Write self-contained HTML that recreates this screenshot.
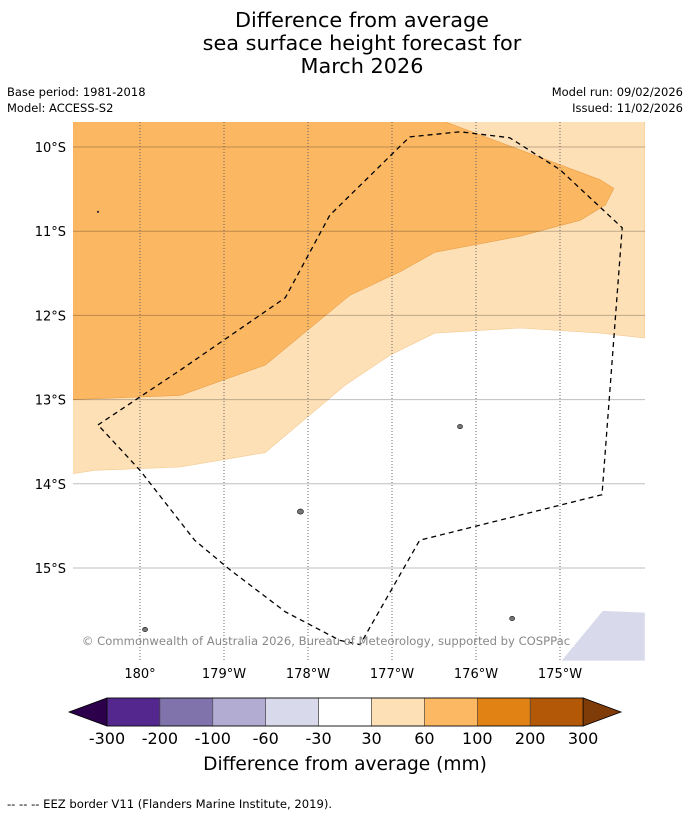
<!DOCTYPE html>
<html><head><meta charset="utf-8">
<style>
body{margin:0;background:#fff;font-family:"Liberation Sans","DejaVu Sans",sans-serif;}
svg text{font-family:"DejaVu Sans","Liberation Sans",sans-serif;}
</style></head>
<body>
<svg id="c" width="690" height="816" viewBox="0 0 690 816" xmlns="http://www.w3.org/2000/svg">
<text x="362" y="27" font-size="20.8" text-anchor="middle">Difference from average</text>
<text x="362" y="50" font-size="20.8" text-anchor="middle">sea surface height forecast for</text>
<text x="362" y="73" font-size="20.8" text-anchor="middle">March 2026</text>
<text x="7" y="96" font-size="11.5">Base period: 1981-2018</text>
<text x="7" y="112" font-size="11.5">Model: ACCESS-S2</text>
<text x="683" y="96" font-size="11.5" text-anchor="end">Model run: 09/02/2026</text>
<text x="683" y="112" font-size="11.5" text-anchor="end">Issued: 11/02/2026</text>
<g id="map"></g>
<g id="cb"></g>
<text x="345" y="770" font-size="18.6" text-anchor="middle">Difference from average (mm)</text>
<text x="7" y="808" font-size="11.6">--  --  -- EEZ border V11 (Flanders Marine Institute, 2019).</text>
</svg>
<script>
const lonTicks=[180,181,182,183,184,185];
const lonLabels=["180°","179°W","178°W","177°W","176°W","175°W"];
const latTicks=[10,11,12,13,14,15];
const latLabels=["10°S","11°S","12°S","13°S","14°S","15°S"];
const lightOrange=[[179.2,9.7],[186.01,9.7],[186.01,12.27],[185.48,12.21],[184.52,12.15],[183.51,12.21],[182.98,12.47],[182.44,12.83],[181.49,13.63],[180.48,13.80],[179.46,13.84],[179.2,13.88]];
const darkOrange=[[179.2,9.7],[183.63,9.7],[184.46,10.01],[185.48,10.39],[185.64,10.49],[185.54,10.69],[185.24,10.87],[184.52,11.06],[183.51,11.25],[183.1,11.48],[182.5,11.76],[181.49,12.59],[180.48,12.95],[179.2,13.0]];
const lightPurple=[[185.02,16.1],[185.51,15.51],[186.01,15.53],[186.01,16.1]];
const eez=[[179.5,13.3],[180.48,12.65],[181.73,11.79],[182.26,10.81],[183.21,9.88],[183.81,9.82],[184.4,9.89],[185.0,10.27],[185.74,10.96],[185.5,14.13],[183.33,14.67],[182.62,15.91],[182.38,15.86],[181.73,15.52],[181.07,15.02],[180.65,14.67],[180.0,13.84],[179.5,13.3]];
const islands=[[183.81,13.32,2.5],[181.91,14.33,3],[184.43,15.6,2.5],[180.06,15.73,2.5],[179.5,10.77,0.8]];
const cbBounds=["-300","-200","-100","-60","-30","30","60","100","200","300"];
const cbColors=["#54278f","#8073ac","#b2abd2","#d8daeb","#ffffff","#fee0b6","#fdb863","#e08214","#b35806"];
const NS="http://www.w3.org/2000/svg";
const X0=73,X1=645,Y0=122,Y1=661;
const xs=l=>140+(l-180)*84;
const ys=l=>147+(l-10)*84.2;
function mk(t,a,p){const e=document.createElementNS(NS,t);for(const k in a)e.setAttribute(k,a[k]);p.appendChild(e);return e;}
const map=document.getElementById('map');
const defs=mk('defs',{},map);const cp=mk('clipPath',{id:'clip'},defs);mk('rect',{x:X0,y:Y0,width:X1-X0,height:Y1-Y0},cp);
const g=mk('g',{'clip-path':'url(#clip)'},map);
const pts=a=>a.map(p=>xs(p[0]).toFixed(1)+','+ys(p[1]).toFixed(1)).join(' ');
let e=mk('polygon',{points:pts(lightOrange),fill:'#fee0b6',stroke:'#f3c98e','stroke-width':0.6},g);

e=mk('polygon',{points:pts(darkOrange),fill:'#fbb762',stroke:'#e9a04a','stroke-width':0.6},g);

e=mk('polygon',{points:pts(lightPurple),fill:'#d8daeb'},g);

latTicks.forEach((v,i)=>{const y=ys(v);
 e=mk('line',{x1:X0,x2:X1,y1:y,y2:y,stroke:'#000','stroke-opacity':0.25,'stroke-width':1},g);
 
 e=mk('text',{x:66,y:y+5,'font-size':13,'text-anchor':'end'},map);e.textContent=latLabels[i];
 });
lonTicks.forEach((v,i)=>{const x=xs(v);
 e=mk('line',{x1:x,x2:x,y1:Y0,y2:Y1,stroke:'#666','stroke-width':1,'stroke-dasharray':'1,2'},g);
 
 e=mk('text',{x:x,y:678,'font-size':13,'text-anchor':'middle'},map);e.textContent=lonLabels[i];
 });
islands.forEach(p=>{e=mk('ellipse',{cx:xs(p[0]),cy:ys(p[1]),rx:p[2],ry:p[2]*0.85,fill:'#777',stroke:'#222','stroke-width':0.7},g);
 });
e=mk('polyline',{points:pts(eez),fill:'none',stroke:'#000','stroke-width':1.3,'stroke-dasharray':'5,4'},g);

e=mk('text',{x:326,y:645,'font-size':11.6,'text-anchor':'middle',fill:'#888'},map);
e.textContent='© Commonwealth of Australia 2026, Bureau of Meteorology, supported by COSPPac';

const cb=document.getElementById('cb');const cx0=107,cw=52.9,cy=698,ch=28;
e=mk('polygon',{points:`${cx0},${cy} ${cx0},${cy+ch} 69,${cy+ch/2}`,fill:'#2d004b',stroke:'#000','stroke-width':0.8},cb);

const xe=cx0+cw*cbColors.length;
e=mk('polygon',{points:`${xe},${cy} ${xe},${cy+ch} 621,${cy+ch/2}`,fill:'#7f3b08',stroke:'#000','stroke-width':0.8},cb);

cbColors.forEach((c,i)=>{e=mk('rect',{x:cx0+i*cw,y:cy,width:cw,height:ch,fill:c,stroke:'#444','stroke-width':0.6},cb);
 });
mk('rect',{x:cx0,y:cy,width:cw*cbColors.length,height:ch,fill:'none',stroke:'#000','stroke-width':0.8},cb);
cbBounds.forEach((b,i)=>{e=mk('text',{x:cx0+i*cw,y:744,'font-size':16,'text-anchor':'middle'},cb);e.textContent=b;
 });
</script>
</body></html>
